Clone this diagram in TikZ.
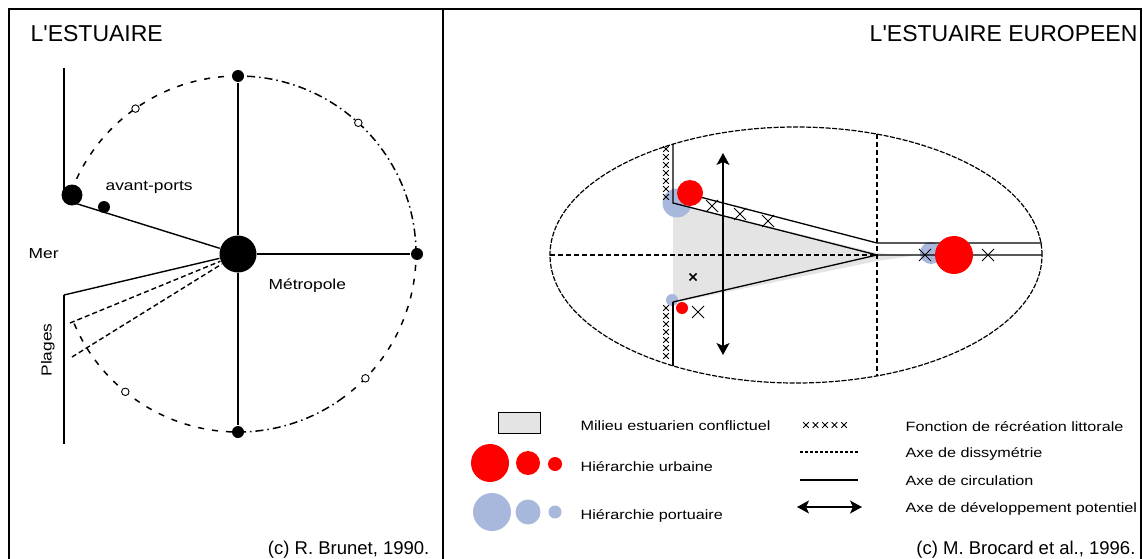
\documentclass[tikz,border=0pt]{standalone}
\usepackage{fontspec}
\setmainfont{Liberation Sans}
\newfontfamily\widefont[FakeStretch=1.2]{Liberation Sans}
\usetikzlibrary{arrows.meta}
\definecolor{urb}{RGB}{255,0,0}
\definecolor{port}{RGB}{168,184,220}
\definecolor{estu}{RGB}{228,228,228}
\begin{document}
\begin{tikzpicture}[x=1pt,y=-1pt,line width=1.2pt,
  frame/.style={line width=1.2pt},
  dot/.style={circle,fill=black,inner sep=0pt},
  ring/.style={circle,draw=black,fill=white,inner sep=0pt,minimum size=7.5pt,line width=0.9pt},
  urbc/.style={circle,fill=urb,inner sep=0pt},
  portc/.style={circle,fill=port,inner sep=0pt},
  lbl/.style={font=\widefont\fontsize{13.5}{14}\selectfont,inner sep=0pt,anchor=base west},
  maplbl/.style={font=\widefont\fontsize{14.5}{15}\selectfont,inner sep=0pt,anchor=base west},
  ttl/.style={font=\fontsize{23}{24}\selectfont,inner sep=0pt},
  cpy/.style={font=\fontsize{18.5}{20}\selectfont,inner sep=0pt,anchor=base east},
  circdash/.style={dash pattern=on 6pt off 8pt,line width=1.5pt},
  circdd/.style={dash pattern=on 8pt off 4pt on 1.5pt off 4pt,line width=1.5pt},
  plagedash/.style={dash pattern=on 5pt off 3pt,line width=1.4pt},
  ellline/.style={dash pattern=on 5pt off 1.5pt,line width=1.2pt},
  axisd/.style={dash pattern=on 5pt off 3pt,line width=1.1pt},
  devarrow/.style={{Stealth[length=12pt,width=13pt,inset=3pt]}-{Stealth[length=12pt,width=13pt,inset=3pt]},line width=1.3pt},
  sx/.pic={\draw[line width=0.9pt] (-2.8,-2.8)--(2.8,2.8) (-2.8,2.8)--(2.8,-2.8);},
  bx/.pic={\draw[line width=0.9pt] (-6,-6)--(6,6) (-6,6)--(6,-6);},
  mx/.pic={\draw[line width=1.5pt] (-3.5,-3.5)--(3.5,3.5) (-3.5,3.5)--(3.5,-3.5);}
]
\useasboundingbox (0,0) rectangle (1143,559);
\fill[white] (0,0) rectangle (1143,559);

% frame
\draw[frame] (9,559) -- (9,9) -- (1141,9) -- (1141,559);
\draw[frame] (443,9) -- (443,559);

% ================= LEFT PANEL =================
\node[ttl,anchor=base west] (t1) at (30,42) {L\textquotesingle ESTUAIRE};

% circle
\draw[circdash] (238,254) ++(157:178) arc[start angle=157,end angle=90,radius=178];
\draw[circdd]   (238,254) ++(90:178)  arc[start angle=90,end angle=55,radius=178];
\draw[circdash] (238,254) ++(55:178)  arc[start angle=55,end angle=0,radius=178];
\draw[circdd]   (238,254) ++(0:178)   arc[start angle=0,end angle=-90,radius=178];
\draw[circdash] (238,254) ++(-90:178) arc[start angle=-90,end angle=-160,radius=178];

\node[dot,minimum size=37pt] (metro) at (238,254) {};
\node[dot,minimum size=12pt] (top) at (238,76) {};
\node[dot,minimum size=12pt] (bot) at (238,432) {};
\node[dot,minimum size=12pt] (rgt) at (417,254) {};
\node[dot,minimum size=21pt] (ap1) at (72,195) {};
\node[dot,minimum size=12pt] (ap2) at (104,207) {};

\node[ring] (o1) at (135.5,108.6) {};
\node[ring] (o2) at (358.3,122.8) {};
\node[ring] (o3) at (125.3,391.8) {};
\node[ring] (o4) at (365.4,378.3) {};

\draw[line width=1.4pt] (top) -- (metro);
\draw[line width=1.4pt] (metro) -- (bot);
\draw[line width=1.4pt] (metro) -- (rgt);
\coordinate (apfoot) at (68,201);
\draw[line width=1.4pt] (apfoot) -- (metro);
\draw[line width=1.4pt] (64,68) -- (64,192);

\coordinate (pl0) at (64,295);
\coordinate (pl1) at (70,323);
\coordinate (pl2) at (72,357);
\draw[line width=1.4pt] (pl0) -- (metro);
\draw[plagedash] (pl1) -- (metro);
\draw[plagedash] (pl2) -- (metro);
\draw[line width=1.4pt] (64,295) -- (64,444);

\node[maplbl] (lap) at (105,190) {avant-ports};
\node[maplbl] (lmer) at (28,258) {Mer};
\node[maplbl] (lmet) at (268,289) {Métropole};
\node[maplbl,anchor=center,rotate=90] (lpl) at (48,350) {Plages};
\node[cpy] (c1) at (430,554) {(c) R. Brunet, 1990.};

% ================= RIGHT PANEL =================
\node[ttl,anchor=base east] (t2) at (1138,42) {L\textquotesingle ESTUAIRE EUROPEEN};

% estuarine zone
\fill[estu] (673,203) -- (877,253) -- (912,256) -- (877,261) -- (673,303) -- cycle;

% ports
\node[portc,minimum size=29pt] (pA) at (677,203) {};
\node[portc,minimum size=12pt] (pB) at (672,300) {};
\node[portc,minimum size=22pt] (pC) at (931,253) {};

% ellipse and axes
\draw[ellline] (796,255) ellipse [x radius=246pt,y radius=128pt];
\coordinate (axL) at (550,255);
\coordinate (apex) at (877,255);
\coordinate (apexU) at (877,243);
\coordinate (vT) at (877,134);
\coordinate (vB) at (877,376);
\draw[axisd] (axL) -- (apex);
\draw[axisd] (vT) -- (vB);

% coast and circulation
\coordinate (cAtop) at (673,144);
\coordinate (cA) at (673,203);
\coordinate (cB) at (673,302);
\coordinate (cBbot) at (673,366);
\coordinate (chU) at (700,197);
\coordinate (eR) at (1042,255);
\coordinate (eRU) at (1042,243);
\draw[line width=1.3pt] (cAtop) -- (cA) -- (apex) -- (eR);
\draw[line width=1.3pt] (chU) -- (apexU) -- (eRU);
\draw[line width=1.3pt] (cB) -- (apex);
\draw[line width=1.3pt] (cB) -- (cBbot);

% cities
\node[urbc,minimum size=26pt] (uA) at (690,193) {};
\node[urbc,minimum size=12pt] (uB) at (682,308) {};
\node[urbc,minimum size=38pt] (uC) at (954,255) {};

% recreation marks
\foreach \yy in {149,157,165,173,181,189,197} \pic at (666,\yy) {sx};
\foreach \yy in {308,316,324,332,340,348,356} \pic at (666,\yy) {sx};
\pic at (712,206) {bx};
\pic at (740,214) {bx};
\pic at (768,221) {bx};
\pic at (698,312) {bx};
\pic at (925,255) {bx};
\pic at (988,255) {bx};
\pic at (693,277) {mx};

% development axis
\coordinate (dT) at (723,153);
\coordinate (dB) at (723,355);
\draw[devarrow] (dT) -- (dB);

% ================= LEGEND =================
\node[draw,fill=estu,line width=1pt,minimum width=42pt,minimum height=21pt,inner sep=0pt] (lgbox) at (519,422.5) {};
\node[lbl] (lg1) at (580,430) {Milieu estuarien conflictuel};

\node[urbc,minimum size=38pt] (lu1) at (490,463) {};
\node[urbc,minimum size=24pt] (lu2) at (528,463) {};
\node[urbc,minimum size=14pt] (lu3) at (555,464) {};
\node[lbl] (lg2) at (580,471) {Hiérarchie urbaine};

\node[portc,minimum size=38pt] (lp1) at (492,512) {};
\node[portc,minimum size=25pt] (lp2) at (528,512) {};
\node[portc,minimum size=13pt] (lp3) at (555,512) {};
\node[lbl] (lg3) at (580,519) {Hiérarchie portuaire};

\foreach \xx in {806,815.5,825,834.5,844} \pic at (\xx,425) {sx};
\node[lbl] (lg4) at (905,431) {Fonction de récréation littorale};

\coordinate (ld1) at (800,452);
\coordinate (ld2) at (858,452);
\draw[dash pattern=on 3pt off 2pt,line width=1.1pt] (ld1) -- (ld2);
\node[lbl] (lg5) at (905,457) {Axe de dissymétrie};

\coordinate (lc1) at (800,480);
\coordinate (lc2) at (858,480);
\draw[line width=1.2pt] (lc1) -- (lc2);
\node[lbl] (lg6) at (905,485) {Axe de circulation};

\coordinate (la1) at (797,507);
\coordinate (la2) at (862,507);
\draw[devarrow] (la1) -- (la2);
\node[lbl] (lg7) at (905,512) {Axe de développement potentiel};

\node[cpy] (c2) at (1136,554) {(c) M. Brocard et al., 1996.};
\end{tikzpicture}
\end{document}
